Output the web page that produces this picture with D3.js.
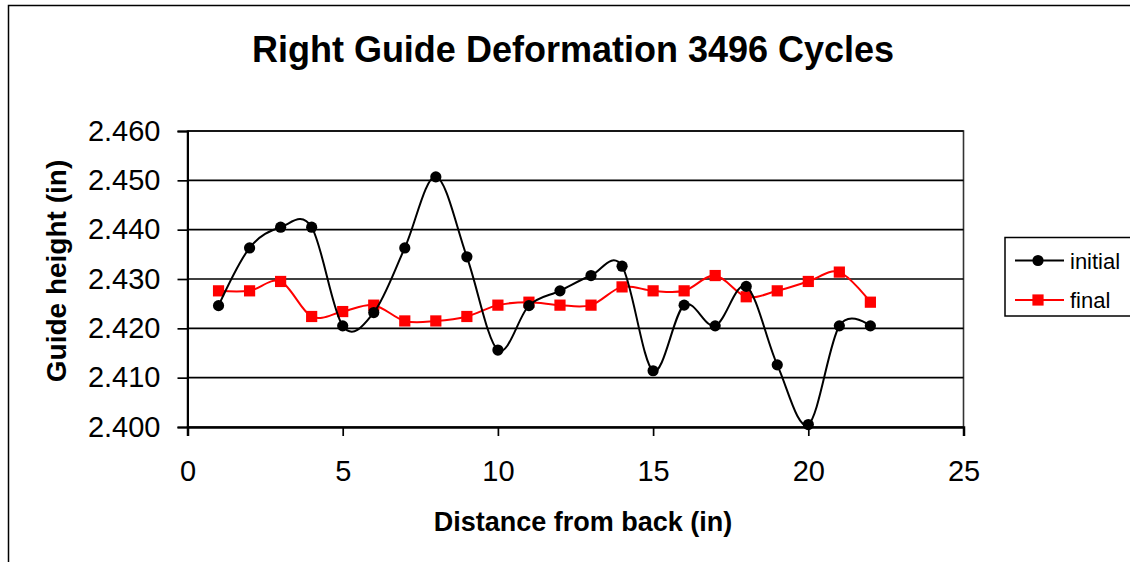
<!DOCTYPE html>
<html>
<head>
<meta charset="utf-8">
<script src="https://cdn.jsdelivr.net/npm/d3@7/dist/d3.min.js"></script>
<style>
  html, body { margin: 0; padding: 0; background: #fff; }
  svg { display: block; }
</style>
</head>
<body>
<div id="chart"></div>
<script>
// Right guide deformation after 3496 cycles: initial vs final guide height,
// Excel-style smoothed lines with markers.
const distance = [1, 2, 3, 4, 5, 6, 7, 8, 9, 10, 11, 12, 13, 14, 15, 16, 17, 18, 19, 20, 21, 22];
const initial = [2.4246, 2.4363, 2.4405, 2.4405, 2.4205, 2.4232, 2.4363, 2.4507, 2.4345, 2.4156, 2.4246,
  2.4276, 2.4307, 2.4326, 2.4114, 2.4247, 2.4205, 2.4285, 2.4126, 2.4005, 2.4205, 2.4205];
const final = [2.4276, 2.4276, 2.4295, 2.4224, 2.4234, 2.4247, 2.4215, 2.4215, 2.4224, 2.4247, 2.4253,
  2.4247, 2.4247, 2.4284, 2.4276, 2.4276, 2.4307, 2.4264, 2.4276, 2.4295, 2.4314, 2.4253];
const xTicks = [0, 5, 10, 15, 20, 25];
const yTicks = [2.400, 2.410, 2.420, 2.430, 2.440, 2.450, 2.460];
const seriesNames = ["initial", "final"];

(() => {
  const W = 1130, H = 562;
  const ML = 187.5, MR = 963.5, TOP = 131, BOT = 427;
  const FONT = "'Liberation Sans', Arial, Helvetica, sans-serif";

  const svg = d3.select("#chart").append("svg")
    .attr("width", W).attr("height", H).attr("viewBox", `0 0 ${W} ${H}`);

  // chart border (runs off the right/bottom edge like the source)
  svg.append("rect").attr("x", 8.5).attr("y", 5.5).attr("width", W + 20).attr("height", H + 20)
    .attr("fill", "#fff").attr("stroke", "#000").attr("stroke-width", 1.5);

  const x = d3.scaleLinear().domain([0, 25]).range([ML, MR]);
  const y = d3.scaleLinear().domain([2.400, 2.460]).range([BOT, TOP]);

  // plot area frame
  svg.append("rect").attr("x", ML).attr("y", TOP).attr("width", MR - ML).attr("height", BOT - TOP)
    .attr("fill", "#fff").attr("stroke", "#333").attr("stroke-width", 1.6);

  // gridlines
  svg.append("g").selectAll("line").data(yTicks.slice(1)).join("line")
    .attr("x1", ML).attr("x2", MR).attr("y1", d => y(d)).attr("y2", d => y(d))
    .attr("stroke", "#000").attr("stroke-width", 1.7);

  // y axis
  const yAxis = svg.append("g").attr("transform", `translate(${ML},0)`)
    .call(d3.axisLeft(y).tickValues(yTicks).tickFormat(d3.format(".3f")).tickSize(10).tickPadding(17));
  yAxis.select(".domain").attr("stroke", "#000").attr("stroke-width", 2);
  yAxis.selectAll(".tick line").attr("stroke", "#000").attr("stroke-width", 1.7);
  yAxis.selectAll(".tick text").attr("fill", "#000")
    .style("font", `29px ${FONT}`);

  // x axis
  const xAxis = svg.append("g").attr("transform", `translate(0,${BOT})`)
    .call(d3.axisBottom(x).tickValues(xTicks).tickFormat(d3.format("d")).tickSize(9).tickPadding(24));
  xAxis.select(".domain").attr("stroke", "#000").attr("stroke-width", 2.5);
  xAxis.selectAll(".tick line").attr("stroke", "#000").attr("stroke-width", 1.7);
  xAxis.selectAll(".tick text").attr("fill", "#000")
    .style("font", `29px ${FONT}`);

  // series
  const rows = [
    { name: seriesNames[0], vals: initial, col: "#000", mark: "circle" },
    { name: seriesNames[1], vals: final, col: "#ff0000", mark: "square" },
  ];
  const line = d3.line().curve(d3.curveCardinal.tension(0))
    .x(p => x(p[0])).y(p => y(p[1]));

  const drawMark = (g, kind, cx, cy, col) => {
    if (kind === "circle") {
      g.append("circle").attr("cx", cx).attr("cy", cy).attr("r", 5.6).attr("fill", col);
    } else {
      g.append("rect").attr("x", cx - 5.6).attr("y", cy - 5.6).attr("width", 11.2).attr("height", 11.2)
        .attr("fill", col);
    }
  };

  // final drawn first so the black line sits above it where they cross
  [rows[1], rows[0]].forEach(s => {
    const pts = distance.map((d, i) => [d, s.vals[i]]);
    svg.append("path").attr("d", line(pts)).attr("fill", "none")
      .attr("stroke", s.col).attr("stroke-width", 2);
    const g = svg.append("g");
    pts.forEach(p => drawMark(g, s.mark, x(p[0]), y(p[1]), s.col));
  });

  // title + axis titles
  svg.append("text").attr("x", 573).attr("y", 62).attr("text-anchor", "middle")
    .style("font", `bold 36px ${FONT}`).text("Right Guide Deformation 3496 Cycles");
  svg.append("text").attr("x", 583).attr("y", 531).attr("text-anchor", "middle")
    .style("font", `bold 27px ${FONT}`).text("Distance from back (in)");
  svg.append("text").attr("transform", "translate(66,271) rotate(-90)").attr("text-anchor", "middle")
    .style("font", `bold 28px ${FONT}`).text("Guide height (in)");

  // legend
  const lg = svg.append("g").attr("transform", "translate(1005,237.5)");
  lg.append("rect").attr("width", 140).attr("height", 78.5)
    .attr("fill", "#fff").attr("stroke", "#000").attr("stroke-width", 1.5);
  rows.forEach((s, i) => {
    const ly = 23 + i * 39.5;
    lg.append("line").attr("x1", 10).attr("x2", 59).attr("y1", ly).attr("y2", ly)
      .attr("stroke", s.col).attr("stroke-width", 2);
    drawMark(lg, s.mark, 33, ly, s.col);
    lg.append("text").attr("x", 65).attr("y", ly + 8)
      .style("font", `22px ${FONT}`).text(s.name);
  });
})();
</script>
</body>
</html>
